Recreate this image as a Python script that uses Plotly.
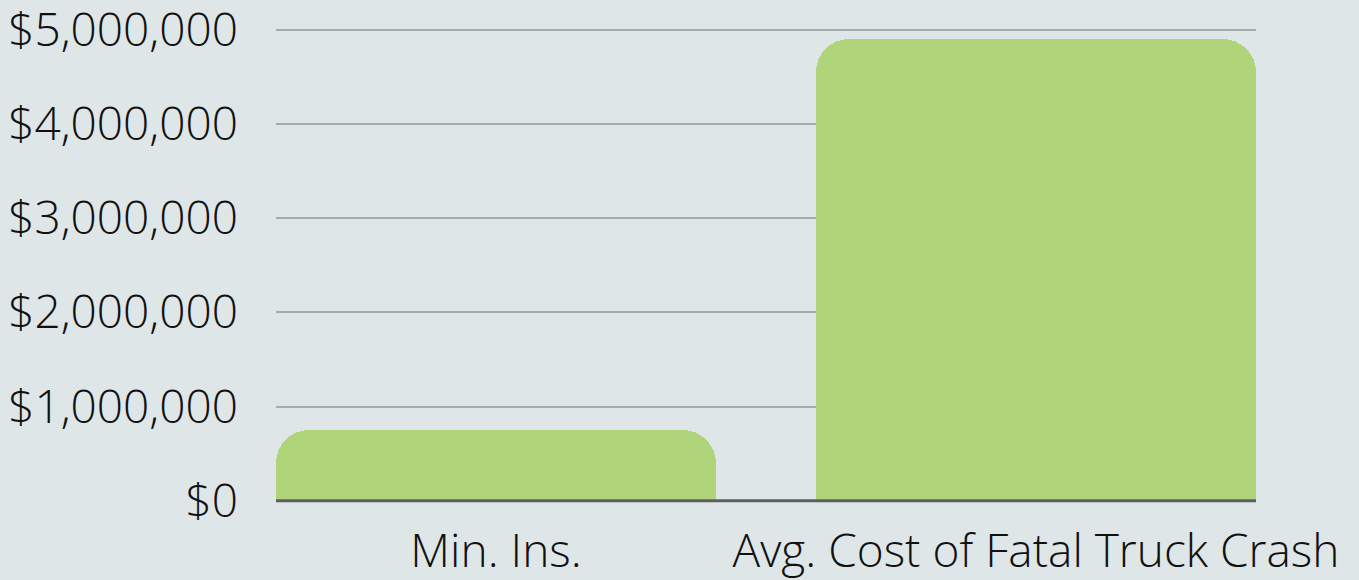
import plotly.graph_objects as go

categories = ["Min. Ins.", "Avg. Cost of Fatal Truck Crash"]
values = [750000, 4900000]
tick_vals = [0, 1000000, 2000000, 3000000, 4000000, 5000000]
tick_text = ["$0", "$1,000,000", "$2,000,000", "$3,000,000", "$4,000,000", "$5,000,000"]

BG = "#dee6e7"
FONT = dict(family="Open Sans", size=46, color="#111111", weight=300)

# axis geometry: zero at y=500.75, 94.25 px per million, plot from y=25 to y=503
TOP = 25
BOTTOM = 503
ZERO_Y = 500.75
PX_PER_M = 94.25
ymax = (ZERO_Y - TOP) / PX_PER_M * 1e6
ymin = -(BOTTOM - ZERO_Y) / PX_PER_M * 1e6

fig = go.Figure(go.Bar(
    x=categories, y=values,
    width=0.815,
    marker=dict(color="#b0d47a", line=dict(width=0), cornerradius=33),
    hoverinfo="skip",
))
fig.update_layout(
    width=1359, height=580,
    margin=dict(l=276, r=103, t=TOP, b=580 - BOTTOM, pad=0, autoexpand=False),
    paper_bgcolor=BG, plot_bgcolor=BG,
    font=FONT,
    showlegend=False,
    bargap=0,
)
# baseline drawn above the bars
fig.add_shape(type="line", xref="paper", yref="y", x0=0, x1=1, y0=0, y1=0,
              line=dict(color="#5b605f", width=3), layer="above")
fig.update_xaxes(
    range=[-0.4075, 1.4075], showgrid=False, showline=False, zeroline=False,
    ticks="", ticklabelstandoff=17, automargin=False, tickfont=FONT,
    ticklabeloverflow="allow",
)
fig.update_yaxes(
    range=[ymin, ymax], tickvals=tick_vals, ticktext=tick_text,
    showgrid=True, gridcolor="#a4abab", gridwidth=2,
    zeroline=False,
    showline=False, ticks="", ticklabelstandoff=37, automargin=False,
    tickfont=FONT, ticklabeloverflow="allow",
)
fig.write_html(
    "out.html",
    config={"displayModeBar": False},
    post_script="document.body.style.margin='0';document.body.style.overflow='hidden';",
)
